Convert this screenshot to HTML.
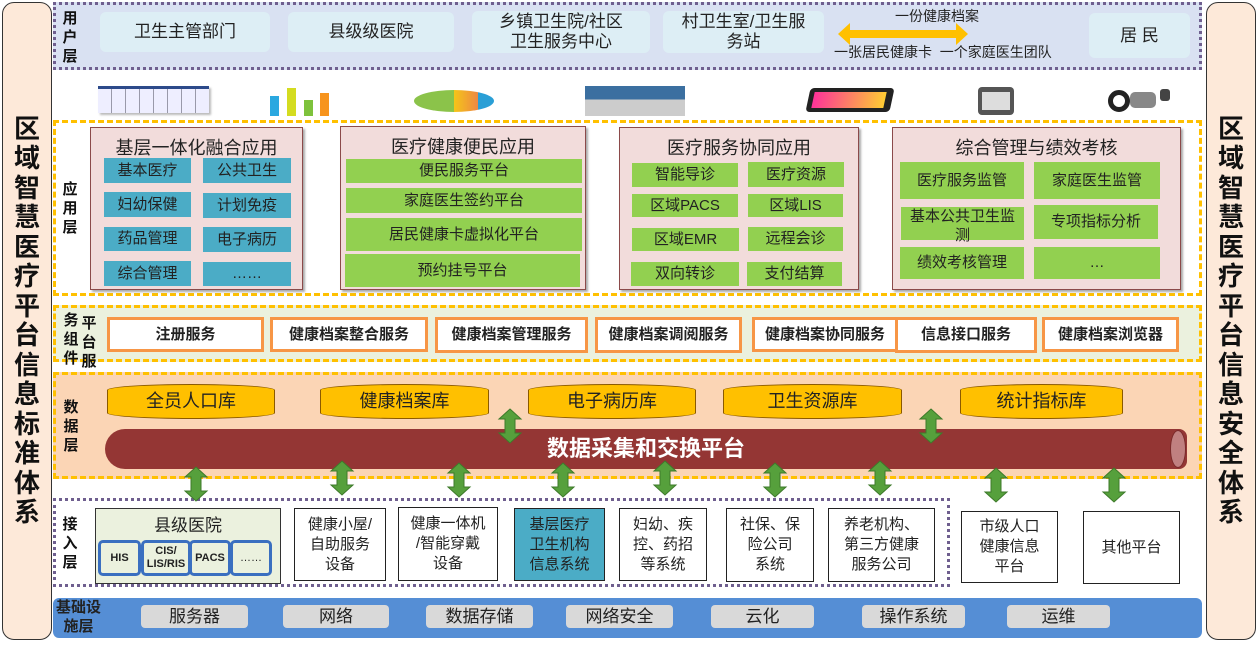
<!DOCTYPE html>
<html><head><meta charset="utf-8"><style>
*{margin:0;padding:0;box-sizing:border-box}
body{width:1258px;height:648px;background:#fff;position:relative;overflow:hidden;font-family:"Liberation Sans","Noto Sans CJK SC",sans-serif;color:#222}
.a{position:absolute}
.c{position:absolute;display:flex;align-items:center;justify-content:center;text-align:center;line-height:1.15}
.side{position:absolute;top:2px;width:50px;height:638px;background:#fde9d9;border:1.5px solid #333;border-radius:12px;display:flex;flex-direction:column;align-items:center;justify-content:center;font-weight:bold;font-size:26px;line-height:29.5px;color:#111}
.vl{position:absolute;font-size:15px;font-weight:bold;line-height:19px;width:16px;text-align:center;color:#111}
.ub{background:#ddeef5;border-radius:6px;font-size:17px;color:#222}
.bc{background:#4bacc6;font-size:15px;color:#222}
.gc{background:#92d050;font-size:15px;color:#222}
.pk{position:absolute;background:#f2dcdb;border:1.5px solid #8b4a4a;box-shadow:2px 2px 2px #aaa}
.pt{position:absolute;left:0;right:0;text-align:center;font-size:18px;top:6px}
.sv{background:#fff;border:3px solid #f79646;font-size:15px;font-weight:bold}
.cy{background:#ffc000;border:1px solid #8b5a00;border-radius:50%/6px;font-size:18px}
.wb{background:#fff;border:1.5px solid #222;font-size:14px;line-height:20px}
.gb{background:#d9d9d9;border-radius:4px;font-size:17px}
</style></head><body>

<div class="side" style="left:2px">区<br>域<br>智<br>慧<br>医<br>疗<br>平<br>台<br>信<br>息<br>标<br>准<br>体<br>系</div>
<div class="side" style="left:1206px">区<br>域<br>智<br>慧<br>医<br>疗<br>平<br>台<br>信<br>息<br>安<br>全<br>体<br>系</div>

<!-- user layer -->
<div class="a" style="left:53px;top:2px;width:1149px;height:68px;background:#d9e1f2;border:3px dotted #6f5f8f"></div>
<div class="vl" style="left:62px;top:9px">用<br>户<br>层</div>
<div class="c ub" style="left:100px;top:12px;width:170px;height:40px">卫生主管部门</div>
<div class="c ub" style="left:288px;top:12px;width:166px;height:40px">县级级医院</div>
<div class="c ub" style="left:472px;top:11px;width:178px;height:42px">乡镇卫生院/社区<br>卫生服务中心</div>
<div class="c ub" style="left:663px;top:11px;width:161px;height:42px">村卫生室/卫生服<br>务站</div>
<svg class="a" style="left:838px;top:23px" width="130" height="22"><polygon points="0,11 12,0 12,7 118,7 118,0 130,11 118,22 118,15 12,15 12,22" fill="#ffc000"/></svg>
<div class="a" style="left:895px;top:6px;font-size:14px">一份健康档案</div>
<div class="a" style="left:834px;top:42px;font-size:14px">一张居民健康卡&nbsp;&nbsp;一个家庭医生团队</div>
<div class="c ub" style="left:1089px;top:13px;width:101px;height:45px">居 民</div>

<!-- icons -->
<div class="a" style="left:98px;top:86px;width:111px;height:27px;background:repeating-linear-gradient(90deg,#eef 0 13px,#99a 13px 14px);border-top:3px solid #2c4a8a;box-shadow:2px 2px 2px #bbb"></div>
<div class="a" style="left:270px;top:96px;width:9px;height:20px;background:#2aa8e0"></div>
<div class="a" style="left:287px;top:88px;width:9px;height:28px;background:#d4dc20"></div>
<div class="a" style="left:304px;top:100px;width:9px;height:16px;background:#7ec23c"></div>
<div class="a" style="left:320px;top:93px;width:9px;height:23px;background:#f7941d"></div>
<div class="a" style="left:414px;top:90px;width:80px;height:22px;border-radius:50%;background:linear-gradient(90deg,#8bc34a 50%,#f5c518 50%,#e84 80%,#2a9fd6 80%)"></div>
<div class="a" style="left:585px;top:86px;width:100px;height:30px;background:linear-gradient(#3b6fa0 0 45%,#ccc 45%)"></div>
<div class="a" style="left:808px;top:88px;width:84px;height:24px;background:#222;border-radius:4px;transform:skewX(-12deg)"><div class="a" style="left:5px;top:4px;width:72px;height:16px;background:linear-gradient(90deg,#f39,#fc3)"></div></div>
<div class="a" style="left:978px;top:87px;width:36px;height:28px;background:#555;border-radius:4px"><div class="a" style="left:4px;top:5px;width:28px;height:18px;background:#ddd"></div></div>
<div class="a" style="left:1108px;top:90px;width:22px;height:22px;border:5px solid #222;border-radius:50%"></div>
<div class="a" style="left:1130px;top:92px;width:26px;height:16px;background:#888;border-radius:5px"></div>
<div class="a" style="left:1160px;top:89px;width:10px;height:12px;background:#444;border-radius:3px"></div>

<!-- app layer -->
<div class="a" style="left:53px;top:120px;width:1149px;height:176px;border:3px dashed #ffc000"></div>
<div class="vl" style="left:62px;top:180px">应<br>用<br>层</div>

<div class="pk" style="left:90px;top:127px;width:213px;height:163px"><div class="pt">基层一体化融合应用</div></div>
<div class="c bc" style="left:104px;top:158px;width:87px;height:25px">基本医疗</div>
<div class="c bc" style="left:203px;top:158px;width:88px;height:25px">公共卫生</div>
<div class="c bc" style="left:104px;top:192px;width:87px;height:25px">妇幼保健</div>
<div class="c bc" style="left:203px;top:193px;width:88px;height:25px">计划免疫</div>
<div class="c bc" style="left:104px;top:227px;width:87px;height:24px">药品管理</div>
<div class="c bc" style="left:203px;top:227px;width:88px;height:25px">电子病历</div>
<div class="c bc" style="left:104px;top:261px;width:87px;height:25px">综合管理</div>
<div class="c bc" style="left:203px;top:262px;width:88px;height:24px">……</div>

<div class="pk" style="left:340px;top:126px;width:246px;height:164px"><div class="pt">医疗健康便民应用</div></div>
<div class="c gc" style="left:346px;top:159px;width:236px;height:24px">便民服务平台</div>
<div class="c gc" style="left:346px;top:188px;width:236px;height:25px">家庭医生签约平台</div>
<div class="c gc" style="left:346px;top:218px;width:236px;height:33px">居民健康卡虚拟化平台</div>
<div class="c gc" style="left:345px;top:254px;width:235px;height:33px">预约挂号平台</div>

<div class="pk" style="left:619px;top:127px;width:240px;height:163px"><div class="pt">医疗服务协同应用</div></div>
<div class="c gc" style="left:632px;top:163px;width:106px;height:24px">智能导诊</div>
<div class="c gc" style="left:748px;top:162px;width:96px;height:25px">医疗资源</div>
<div class="c gc" style="left:632px;top:194px;width:106px;height:23px">区域PACS</div>
<div class="c gc" style="left:748px;top:194px;width:95px;height:23px">区域LIS</div>
<div class="c gc" style="left:632px;top:228px;width:107px;height:23px">区域EMR</div>
<div class="c gc" style="left:748px;top:227px;width:95px;height:24px">远程会诊</div>
<div class="c gc" style="left:631px;top:262px;width:108px;height:24px">双向转诊</div>
<div class="c gc" style="left:747px;top:262px;width:95px;height:24px">支付结算</div>

<div class="pk" style="left:892px;top:127px;width:289px;height:163px"><div class="pt">综合管理与绩效考核</div></div>
<div class="c gc" style="left:900px;top:162px;width:124px;height:37px">医疗服务监管</div>
<div class="c gc" style="left:1034px;top:162px;width:126px;height:37px">家庭医生监管</div>
<div class="c gc" style="left:901px;top:207px;width:123px;height:33px;align-items:flex-start;line-height:19px">基本公共卫生监<br>测</div>
<div class="c gc" style="left:1034px;top:205px;width:124px;height:34px">专项指标分析</div>
<div class="c gc" style="left:900px;top:247px;width:124px;height:32px">绩效考核管理</div>
<div class="c gc" style="left:1034px;top:247px;width:126px;height:32px">…</div>

<!-- service layer -->
<div class="a" style="left:53px;top:305px;width:1149px;height:57px;background:#ebf1de;border:3px dashed #ffc000"></div>
<div class="vl" style="left:63px;top:311px">务<br>组<br>件</div>
<div class="vl" style="left:81px;top:314px">平<br>台<br>服</div>
<div class="c sv" style="left:107px;top:317px;width:157px;height:35px">注册服务</div>
<div class="c sv" style="left:270px;top:317px;width:158px;height:35px">健康档案整合服务</div>
<div class="c sv" style="left:435px;top:317px;width:153px;height:36px">健康档案管理服务</div>
<div class="c sv" style="left:595px;top:317px;width:147px;height:36px">健康档案调阅服务</div>
<div class="c sv" style="left:752px;top:317px;width:146px;height:35px">健康档案协同服务</div>
<div class="c sv" style="left:895px;top:317px;width:142px;height:36px">信息接口服务</div>
<div class="c sv" style="left:1042px;top:317px;width:137px;height:35px">健康档案浏览器</div>

<!-- data layer -->
<div class="a" style="left:53px;top:372px;width:1149px;height:107px;background:#fbd5b5;border:3px dashed #ffc000"></div>
<div class="vl" style="left:63px;top:398px">数<br>据<br>层</div>
<div class="c cy" style="left:107px;top:384px;width:168px;height:35px">全员人口库</div>
<div class="c cy" style="left:320px;top:384px;width:169px;height:35px">健康档案库</div>
<div class="c cy" style="left:528px;top:384px;width:168px;height:35px">电子病历库</div>
<div class="c cy" style="left:723px;top:384px;width:179px;height:35px">卫生资源库</div>
<div class="c cy" style="left:960px;top:384px;width:163px;height:35px">统计指标库</div>
<div class="c" style="left:105px;top:429px;width:1082px;height:40px;background:#943634;border-radius:20px 8px 8px 20px;color:#fff;font-weight:bold;font-size:22px">数据采集和交换平台</div>
<div class="a" style="left:1170px;top:430px;width:16px;height:38px;border-radius:50%;background:#c08080;border:1px solid #7a2a2a"></div>

<!-- access layer -->
<div class="a" style="left:53px;top:498px;width:897px;height:89px;border:3px dotted #6f5f8f"></div>
<div class="vl" style="left:62px;top:515px">接<br>入<br>层</div>
<div class="a" style="left:95px;top:508px;width:186px;height:76px;background:#ebf1de;border:1.5px solid #333"></div>
<div class="a" style="left:95px;top:511px;width:186px;text-align:center;font-size:17px">县级医院</div>
<div class="c" style="left:98px;top:540px;width:43px;height:36px;border:3px solid #3a6fc0;border-radius:5px;font-size:11px;font-weight:bold">HIS</div>
<div class="c" style="left:141px;top:540px;width:50px;height:36px;border:3px solid #3a6fc0;border-radius:5px;font-size:11px;font-weight:bold">CIS/<br>LIS/RIS</div>
<div class="c" style="left:189px;top:540px;width:42px;height:36px;border:3px solid #3a6fc0;border-radius:5px;font-size:11px;font-weight:bold">PACS</div>
<div class="c" style="left:230px;top:540px;width:42px;height:36px;border:3px solid #3a6fc0;border-radius:5px;font-size:11px">……</div>
<div class="c wb" style="left:294px;top:508px;width:92px;height:73px;font-size:15px">健康小屋/<br>自助服务<br>设备</div>
<div class="c wb" style="left:398px;top:507px;width:100px;height:74px;font-size:15px">健康一体机<br>/智能穿戴<br>设备</div>
<div class="c wb" style="left:514px;top:508px;width:91px;height:73px;background:#4bacc6;font-size:15px">基层医疗<br>卫生机构<br>信息系统</div>
<div class="c wb" style="left:619px;top:508px;width:88px;height:73px;font-size:15px">妇幼、疾<br>控、药招<br>等系统</div>
<div class="c wb" style="left:726px;top:508px;width:88px;height:74px;font-size:15px">社保、保<br>险公司<br>系统</div>
<div class="c wb" style="left:828px;top:508px;width:107px;height:74px;font-size:15px">养老机构、<br>第三方健康<br>服务公司</div>
<div class="c wb" style="left:961px;top:511px;width:97px;height:72px;font-size:15px">市级人口<br>健康信息<br>平台</div>
<div class="c wb" style="left:1083px;top:511px;width:97px;height:73px;font-size:15px">其他平台</div>

<!-- infra -->
<div class="a" style="left:53px;top:598px;width:1149px;height:40px;background:#558ed5;border-radius:6px"></div>
<div class="a" style="left:56px;top:598px;font-size:15px;font-weight:bold;line-height:19px;text-align:center">基础设<br>施层</div>
<div class="c gb" style="left:141px;top:605px;width:107px;height:23px">服务器</div>
<div class="c gb" style="left:283px;top:605px;width:106px;height:23px">网络</div>
<div class="c gb" style="left:426px;top:605px;width:107px;height:23px">数据存储</div>
<div class="c gb" style="left:566px;top:605px;width:107px;height:23px">网络安全</div>
<div class="c gb" style="left:711px;top:605px;width:103px;height:23px">云化</div>
<div class="c gb" style="left:862px;top:605px;width:103px;height:23px">操作系统</div>
<div class="c gb" style="left:1007px;top:605px;width:103px;height:23px">运维</div>

<!-- arrows -->
<svg class="a" style="left:0;top:0" width="1258" height="648">
<defs><polygon id="ar" points="11,0 22,10 16,10 16,24 22,24 11,34 0,24 6,24 6,10 0,10" fill="#56a03c" stroke="#3d7a2a" stroke-width="1"/></defs>
<use href="#ar" x="185" y="467"/>
<use href="#ar" x="331" y="461"/>
<use href="#ar" x="448" y="463"/>
<use href="#ar" x="552" y="463"/>
<use href="#ar" x="654" y="461"/>
<use href="#ar" x="764" y="463"/>
<use href="#ar" x="869" y="461"/>
<use href="#ar" x="985" y="468"/>
<use href="#ar" x="1103" y="468"/>
<use href="#ar" x="499" y="409"/>
<use href="#ar" x="920" y="409"/>
</svg>
</body></html>
